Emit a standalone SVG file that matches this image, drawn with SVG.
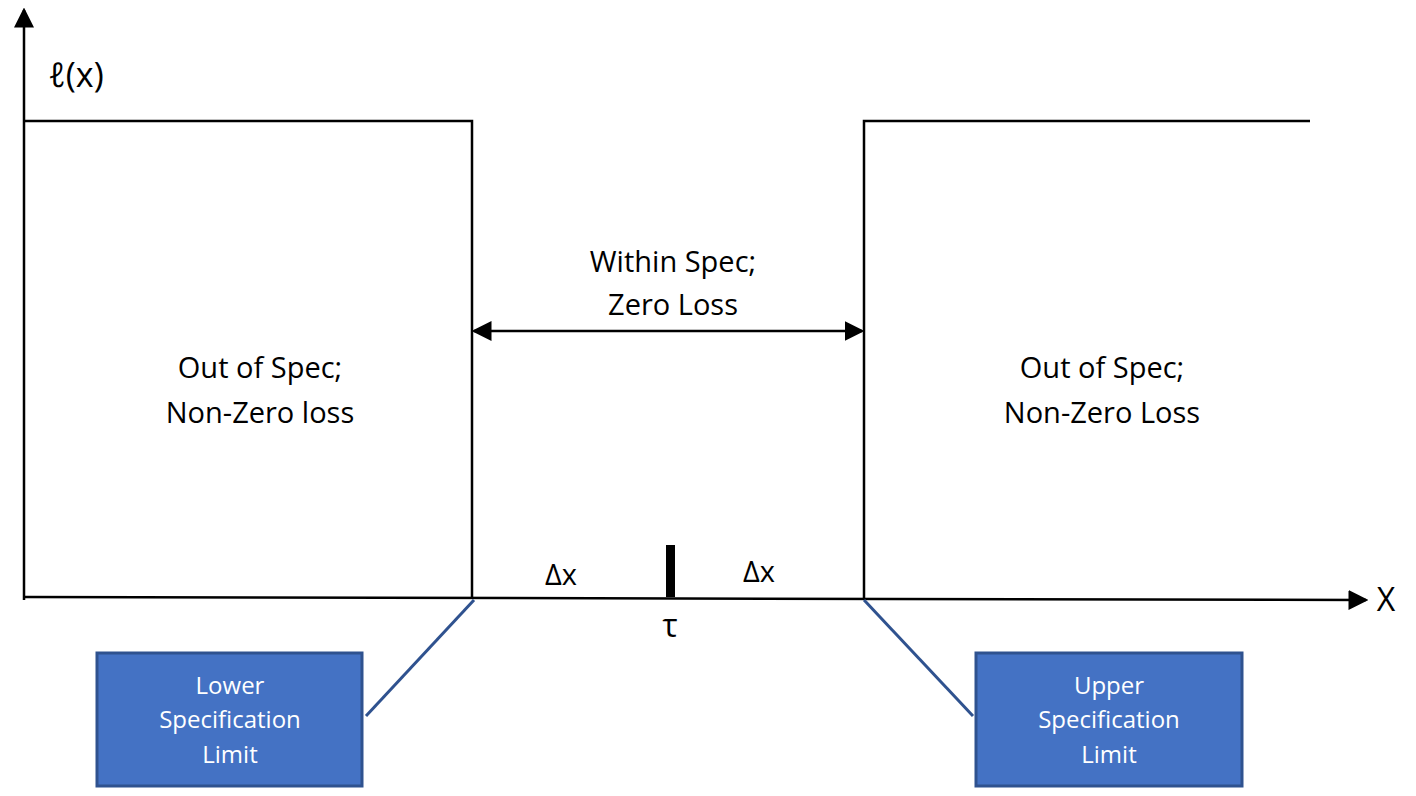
<svg xmlns="http://www.w3.org/2000/svg" width="1416" height="796" viewBox="0 0 1416 796">
<style>
.ln{stroke:#000;stroke-width:2.5;fill:none}
.t{font-family:"Open Sans","Noto Sans",sans-serif;font-size:29px;fill:#000;text-anchor:middle;font-weight:500}
.bt{font-family:"Open Sans","Noto Sans",sans-serif;font-size:24px;fill:#fff;text-anchor:middle;font-weight:500}
.box{fill:#4472C4;stroke:#2F528F;stroke-width:3}
.lead{stroke:#2F528F;stroke-width:3}
</style>
<defs>
<marker id="ah" markerWidth="8" markerHeight="8" refX="7" refY="4" orient="auto-start-reverse" markerUnits="strokeWidth">
<path d="M0,0 L8,4 L0,8 Z" fill="#000"/>
</marker>
</defs>
<g id="connectors">
<line class="ln" x1="24" y1="600" x2="24" y2="10" marker-end="url(#ah)"/>
<line class="ln" x1="24" y1="597" x2="1366" y2="600" marker-end="url(#ah)"/>
<polyline class="ln" points="24,121 472,121 472,598"/>
<polyline class="ln" points="864,599 864,121 1310,121"/>
<line class="ln" x1="474" y1="331" x2="862" y2="331" marker-start="url(#ah)" marker-end="url(#ah)"/>
<rect x="666" y="545" width="9" height="52" fill="#000"/>
<line class="lead" x1="474" y1="600" x2="366" y2="716"/>
<line class="lead" x1="864" y1="600" x2="973" y2="716"/>
</g>
<g id="labels">
<text class="t" x="76" y="87" style="font-size:34px">ℓ(x)</text>
<text class="t" x="1386" y="611" style="font-size:32px">X</text>
<text class="t" x="673" y="272">Within Spec;</text>
<text class="t" x="673" y="315">Zero Loss</text>
<text class="t" x="260" y="378">Out of Spec;</text>
<text class="t" x="260" y="423">Non-Zero loss</text>
<text class="t" x="1102" y="378">Out of Spec;</text>
<text class="t" x="1102" y="423">Non-Zero Loss</text>
<text class="t" x="561" y="585">Δx</text>
<text class="t" x="759" y="582">Δx</text>
<text class="t" x="670" y="637" style="font-size:32px">τ</text>
</g>
<g id="lsl">
<rect class="box" x="97" y="653" width="265" height="133"/>
<text class="bt" x="230" y="694">Lower</text>
<text class="bt" x="230" y="728">Specification</text>
<text class="bt" x="230" y="763">Limit</text>
</g>
<g id="usl">
<rect class="box" x="976" y="653" width="266" height="133"/>
<text class="bt" x="1109" y="694">Upper</text>
<text class="bt" x="1109" y="728">Specification</text>
<text class="bt" x="1109" y="763">Limit</text>
</g>
</svg>
